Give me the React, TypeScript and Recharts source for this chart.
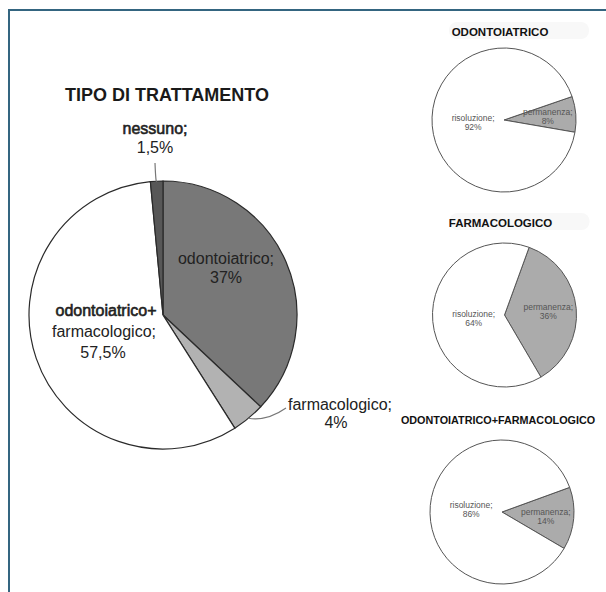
import React from 'react';
import { PieChart, Pie, Cell } from 'recharts';

// Treatment mix (main pie)
const treatmentNames = ['odontoiatrico', 'farmacologico', 'odontoiatrico+farmacologico', 'nessuno'];
const treatmentShares = [37, 4, 57.5, 1.5];

// Outcome per treatment group (small pies)
const groupTitles = ['ODONTOIATRICO', 'FARMACOLOGICO', 'ODONTOIATRICO+FARMACOLOGICO'];
const outcomeNames = ['permanenza', 'risoluzione'];
const permanenzaShares = [8, 36, 14];
const risoluzioneShares = [92, 64, 86];

const FONT = '"Liberation Sans", Arial, Helvetica, sans-serif';
const RAD = Math.PI / 180;

const treatmentColors = ['#787878', '#b2b2b2', '#ffffff', '#575757'];
const outcomeColors = ['#ababab', '#ffffff'];

const mainData = treatmentNames.map((name, i) => ({ name, value: treatmentShares[i] }));
const groupData = groupTitles.map((title, g) => ({
  title,
  slices: [
    { name: outcomeNames[0], value: permanenzaShares[g] },
    { name: outcomeNames[1], value: risoluzioneShares[g] },
  ],
}));

// main pie geometry and label placement (offsets from the pie centre);
// heavy = index of lines drawn with a faux-semibold outline
type LabelCfg = { dx: number[]; lines: string[]; dy: number[]; heavy?: number[]; anchor?: { dx: number; dy: number } };
const MAIN = { cx: 158, cy: 310, r: 134 };
const mainLabels: Record<string, LabelCfg> = {
  odontoiatrico: { dx: [63, 63], lines: ['odontoiatrico;'], dy: [-51, -32] },
  farmacologico: { dx: [177, 173], lines: ['farmacologico;'], dy: [95, 113], anchor: { dx: 123, dy: 93 } },
  'odontoiatrico+farmacologico': { dx: [-57, -59, -60], lines: ['odontoiatrico+', 'farmacologico;'], dy: [1, 22, 43], heavy: [0] },
  nessuno: { dx: [-8, -8], lines: ['nessuno;'], dy: [-181, -162], heavy: [0], anchor: { dx: -8, dy: -152 } },
};

// small pies: centre, start angle of the "permanenza" slice, title baseline
const SMALL = [
  { cx: 499, cy: 115, start: 19, titleY: 36, titleSize: 11.5, band: true },
  { cx: 499.5, cy: 310, start: 70, titleY: 227, titleSize: 11.5, band: true },
  { cx: 497, cy: 507, start: 20, titleY: 424, titleSize: 10.8, band: false },
];
const SMALL_R = 72;

const fmt = (v: number) => `${String(v).replace('.', ',')}%`;

const renderMainLabel = (props: any) => {
  const { cx, cy, midAngle, outerRadius, name, value } = props;
  const cfg = mainLabels[name];
  if (!cfg) return null;
  const lines = [...cfg.lines, fmt(value)];
  let leader = null;
  if (cfg.anchor) {
    const sx = cx + outerRadius * Math.cos(-midAngle * RAD);
    const sy = cy + outerRadius * Math.sin(-midAngle * RAD);
    const ex = cx + cfg.anchor.dx;
    const ey = cy + cfg.anchor.dy;
    leader = (
      <path
        d={`M${sx},${sy} Q${(sx + ex) / 2},${Math.max(sy, ey) + 3} ${ex},${ey}`}
        stroke="#777"
        strokeWidth={1.2}
        fill="none"
      />
    );
  }
  return (
    <g>
      {leader}
      {lines.map((t, i) => {
        const heavy = cfg.heavy?.includes(i);
        return (
          <text
            key={i}
            x={cx + cfg.dx[i]}
            y={cy + cfg.dy[i]}
            textAnchor="middle"
            fontFamily={FONT}
            fontSize={16}
            fill="#222"
            stroke={heavy ? '#222' : 'none'}
            strokeWidth={heavy ? 0.6 : 0}
          >
            {t}
          </text>
        );
      })}
    </g>
  );
};

const renderOutcomeLabel = (props: any) => {
  const { cx, cy, midAngle, outerRadius, name, value } = props;
  const k = name === 'permanenza' ? 0.61 : 0.43;
  const x = cx + outerRadius * k * Math.cos(-midAngle * RAD);
  const y = cy + outerRadius * k * Math.sin(-midAngle * RAD);
  return (
    <g>
      <text x={x} y={y - 1} textAnchor="middle" fontFamily={FONT} fontSize={8.5} fill="#555">
        {`${name};`}
      </text>
      <text x={x} y={y + 8} textAnchor="middle" fontFamily={FONT} fontSize={8.5} fill="#555">
        {fmt(value)}
      </text>
    </g>
  );
};

export default function App() {
  return (
    <div style={{ position: 'relative', width: 606, height: 592, background: '#fff' }}>
      <style>{'body{margin:0;overflow:hidden;background:#fff}'}</style>
      <div
        style={{
          position: 'absolute',
          left: 8,
          top: 9,
          width: 598,
          height: 583,
          borderTop: '2px solid #346580',
          borderLeft: '2px solid #346580',
          boxSizing: 'border-box',
        }}
      />
      <div style={{ position: 'absolute', left: 0, top: 0 }}>
        <PieChart width={606} height={592}>
          <text x={167} y={101} textAnchor="middle" fontFamily={FONT} fontSize={18} fontWeight="bold" fill="#1a1a1a">
            TIPO DI TRATTAMENTO
          </text>
          {SMALL.map((s, g) => (
            <g key={`t${g}`}>
              {s.band && <rect x={s.cx - 50} y={s.titleY - 14} width={140} height={17} rx={8} fill="#f8f8f8" />}
              <text
                x={s.cx + 1}
                y={s.titleY}
                textAnchor="middle"
                fontFamily={FONT}
                fontSize={s.titleSize}
                fontWeight="bold"
                fill="#111"
              >
                {groupData[g].title}
              </text>
            </g>
          ))}
          <Pie
            data={mainData}
            dataKey="value"
            nameKey="name"
            cx={MAIN.cx}
            cy={MAIN.cy}
            outerRadius={MAIN.r}
            startAngle={90}
            endAngle={-270}
            stroke="#2a2a2a"
            strokeWidth={1.2}
            label={renderMainLabel}
            labelLine={false}
            isAnimationActive={false}
          >
            {mainData.map((d, i) => (
              <Cell key={d.name} fill={treatmentColors[i]} />
            ))}
          </Pie>
          {groupData.map((grp, g) => (
            <Pie
              key={grp.title}
              data={grp.slices}
              dataKey="value"
              nameKey="name"
              cx={SMALL[g].cx}
              cy={SMALL[g].cy}
              outerRadius={SMALL_R}
              startAngle={SMALL[g].start}
              endAngle={SMALL[g].start - 360}
              stroke="#555"
              strokeWidth={1}
              label={renderOutcomeLabel}
              labelLine={false}
              isAnimationActive={false}
            >
              {grp.slices.map((d, i) => (
                <Cell key={d.name} fill={outcomeColors[i]} />
              ))}
            </Pie>
          ))}
        </PieChart>
      </div>
    </div>
  );
}
